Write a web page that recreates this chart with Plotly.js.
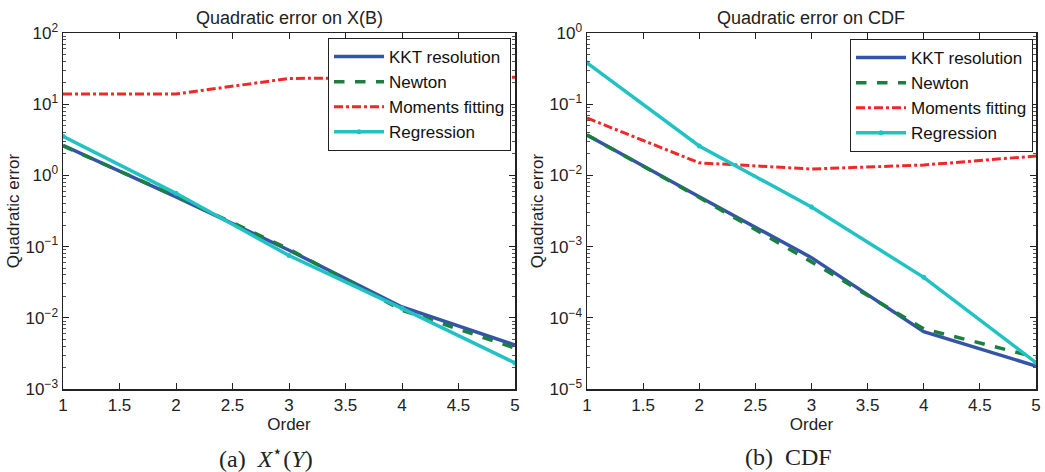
<!DOCTYPE html>
<html>
<head>
<meta charset="utf-8">
<script src="https://cdn.plot.ly/plotly-3.0.1.min.js"></script>
<style>html,body{margin:0;padding:0;background:#fff;}#chart{width:1045px;height:472px;}</style>
</head>
<body>
<div id="chart"></div>
<script>
// Data
const orders = [1, 2, 3, 4, 5];
const seriesNames = ["KKT resolution", "Newton", "Moments fitting", "Regression"];
// (a) Quadratic error on X(B)
const xb_kkt = [2.65, 0.50, 0.089, 0.0142, 0.00415];
const xb_newton = [2.6, 0.51, 0.092, 0.0128, 0.00375];
const xb_moments = [13.9, 13.9, 23.0, 23.5, 24.0];
const xb_regression = [3.55, 0.56, 0.075, 0.0136, 0.00232];
// (b) Quadratic error on CDF
const cdf_kkt = [0.037, 0.0050, 0.00070, 0.000064, 0.0000210];
const cdf_newton = [0.037, 0.0049, 0.00061, 0.000070, 0.0000280];
const cdf_moments = [0.064, 0.0150, 0.0123, 0.0140, 0.0187];
const cdf_regression = [0.38, 0.0259, 0.0036, 0.000370, 0.0000235];
// Tick labels
const xTicks = [1, 1.5, 2, 2.5, 3, 3.5, 4, 4.5, 5];
const yTicksA = [-3, -2, -1, 0, 1, 2];
const yTicksB = [-5, -4, -3, -2, -1, 0];
const titles = ["Quadratic error on X(B)", "Quadratic error on CDF"];
const captions = ["(a)&nbsp;&nbsp;<i>X</i><sup>⋆</sup>(<i>Y</i>)", "(b)&nbsp;&nbsp;CDF"];

const styles = [
  {color: "#3454a8", width: 3.5, dash: "solid"},
  {color: "#1a8040", width: 3.5, dash: "dash"},
  {color: "#f02828", width: 3, dash: "dashdot"},
  {color: "#22c2c4", width: 3.5, dash: "solid"}
];

function mk(y, i, xa, ya, leg) {
  const t = {
    x: orders, y: y, name: seriesNames[i], xaxis: xa, yaxis: ya, legend: leg,
    type: "scatter", mode: i === 3 ? "lines+markers" : "lines",
    line: {color: styles[i].color, width: styles[i].width, dash: styles[i].dash},
    cliponaxis: true
  };
  if (i === 3) t.marker = {size: 5, color: styles[i].color};
  return t;
}

const data = [
  mk(xb_kkt, 0, "x", "y", "legend"),
  mk(xb_newton, 1, "x", "y", "legend"),
  mk(xb_moments, 2, "x", "y", "legend"),
  mk(xb_regression, 3, "x", "y", "legend"),
  mk(cdf_kkt, 0, "x2", "y2", "legend2"),
  mk(cdf_newton, 1, "x2", "y2", "legend2"),
  mk(cdf_moments, 2, "x2", "y2", "legend2"),
  mk(cdf_regression, 3, "x2", "y2", "legend2")
];

const fam = "Liberation Sans, Arial, sans-serif";
const font = {family: fam, size: 16, color: "#222"};
const yTop = 1 - 33 / 472, yBot = 1 - 389 / 472;

function xaxis(d, anchor) {
  return {
    domain: d, anchor: anchor, range: [1, 5], tickvals: xTicks,
    ticktext: xTicks.map(String), ticks: "inside", ticklen: 6, tickwidth: 1,
    tickcolor: "#222", showline: true, linecolor: "#222", linewidth: 1.5,
    mirror: "ticks", showgrid: false, zeroline: false,
    tickfont: {family: fam, size: 17, color: "#222"},
    title: {text: "Order", font: {family: fam, size: 17, color: "#222"}, standoff: 2}
  };
}
function yaxis(range, ticks, anchor) {
  return {
    domain: [yBot, yTop], anchor: anchor, type: "log", range: range,
    tickvals: ticks.map(e => Math.pow(10, e)),
    ticktext: ticks.map(e => "10<sup>" + (e < 0 ? "−" + (-e) : e) + "</sup>"),
    ticks: "inside", ticklen: 6, tickwidth: 1, tickcolor: "#222",
    minor: {ticks: "inside", ticklen: 3, tickcolor: "#555", dtick: "D1", showgrid: false},
    showline: true, linecolor: "#222", linewidth: 1.5, mirror: "ticks",
    showgrid: false, zeroline: false,
    tickfont: {family: fam, size: 17, color: "#222"},
    title: {text: "Quadratic error", font: {family: fam, size: 17, color: "#222"}, standoff: 1}
  };
}

const legendCommon = {
  bgcolor: "#fff", bordercolor: "#222", borderwidth: 1,
  font: {family: fam, size: 17, color: "#111"},
  xanchor: "right", yanchor: "top", itemwidth: 50, tracegroupgap: 0,
  traceorder: "normal"
};

const layout = {
  width: 1045, height: 472, margin: {l: 0, r: 0, t: 0, b: 0},
  paper_bgcolor: "#fff", plot_bgcolor: "#fff", font: font, showlegend: true,
  xaxis: xaxis([63 / 1045, 515 / 1045], "y"),
  yaxis: yaxis([-3, 2], yTicksA, "x"),
  xaxis2: xaxis([587 / 1045, 1036 / 1045], "y2"),
  yaxis2: yaxis([-5, 0], yTicksB, "x2"),
  legend: Object.assign({x: 511 / 1045, y: 1 - 38 / 472}, legendCommon),
  legend2: Object.assign({x: 1033 / 1045, y: 1 - 39 / 472}, legendCommon),
  annotations: [
    {text: titles[0], x: 289 / 1045, y: 1 - 18 / 472, xref: "paper", yref: "paper", showarrow: false, xanchor: "center", yanchor: "middle", font: {family: fam, size: 18, color: "#222"}},
    {text: titles[1], x: 811 / 1045, y: 1 - 18 / 472, xref: "paper", yref: "paper", showarrow: false, xanchor: "center", yanchor: "middle", font: {family: fam, size: 18, color: "#222"}},
    {text: captions[0], x: 266 / 1045, y: 1 - 457 / 472, xref: "paper", yref: "paper", showarrow: false, xanchor: "center", yanchor: "middle", font: {family: "Liberation Serif, DejaVu Serif, serif", size: 24, color: "#222"}},
    {text: captions[1], x: 788 / 1045, y: 1 - 457 / 472, xref: "paper", yref: "paper", showarrow: false, xanchor: "center", yanchor: "middle", font: {family: "Liberation Serif, DejaVu Serif, serif", size: 24, color: "#222"}}
  ]
};

Plotly.newPlot("chart", data, layout, {staticPlot: true, displayModeBar: false});
</script>
</body>
</html>
